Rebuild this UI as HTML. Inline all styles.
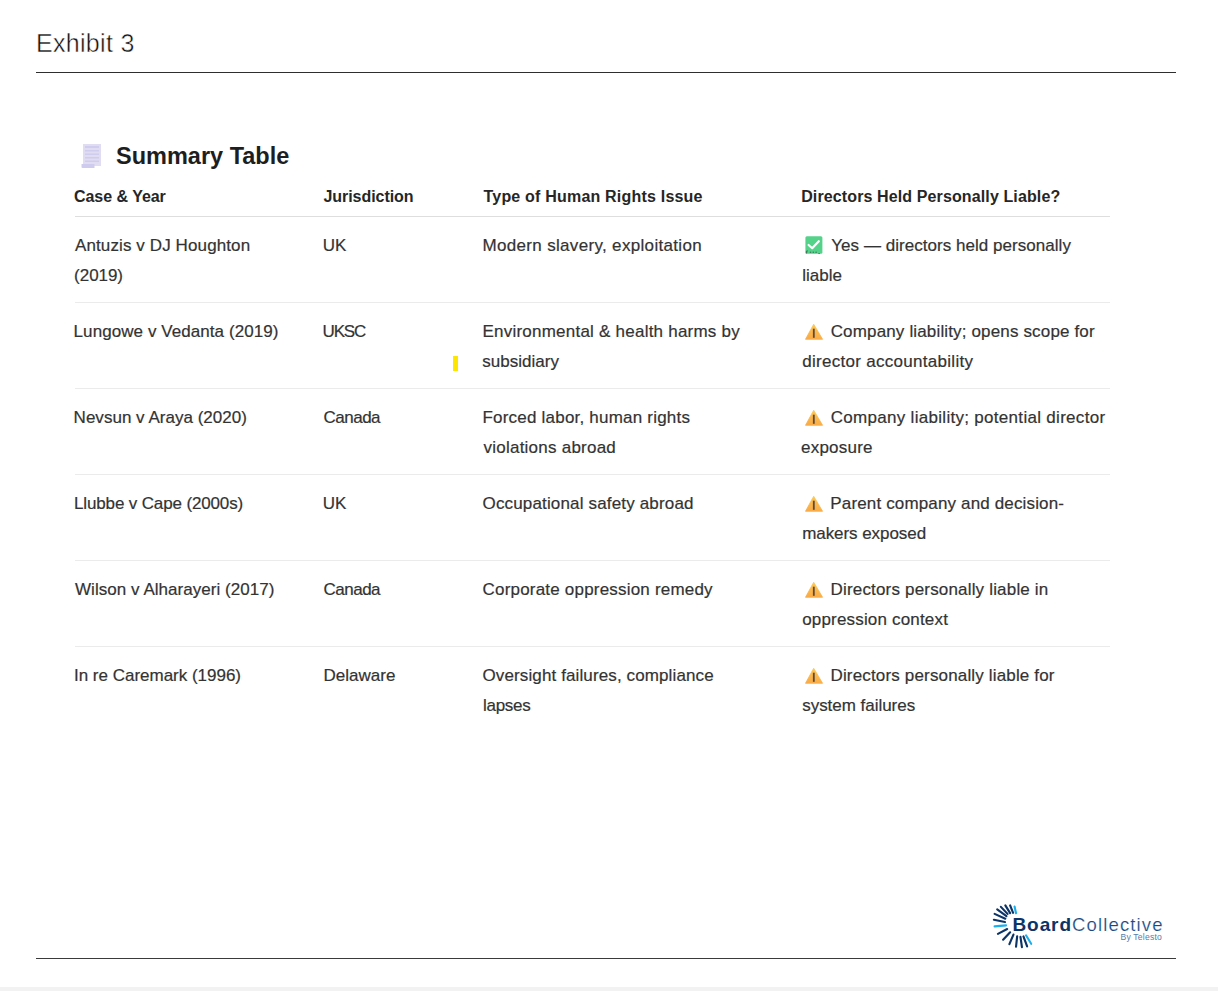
<!DOCTYPE html>
<html>
<head>
<meta charset="utf-8">
<style>
html,body{margin:0;padding:0;background:#fff;}
body{width:1218px;height:991px;position:relative;overflow:hidden;font-family:"Liberation Sans",sans-serif;}
.a{position:absolute;white-space:nowrap;}
.title{left:36px;top:28.3px;font-size:25px;line-height:30px;color:#111;letter-spacing:0.3px;-webkit-text-stroke:0.45px #fff;paint-order:fill stroke;}
.hr{position:absolute;left:36px;width:1140px;height:1px;background:#2e2e2e;}
.st{left:116px;top:140.7px;font-size:23.5px;line-height:30px;font-weight:bold;color:#1e1e1e;}
.th{font-size:16px;line-height:20px;font-weight:bold;color:#262626;top:187.3px;}
.td{font-size:17px;line-height:30px;color:#333;-webkit-text-stroke:0.2px #333;}
.sep{position:absolute;left:75px;width:1035px;height:1px;background:#ebebeb;}
.sep.h{background:#dedede;}
.em{display:inline-block;vertical-align:top;}
.bottom{position:absolute;left:0;top:987px;width:1218px;height:4px;background:#f2f2f2;}
</style>
</head>
<body>
<div id="wrap" style="position:absolute;left:0;top:0;width:1218px;height:991px;">
<div class="a title">Exhibit 3</div>
<div class="hr" style="top:72px"></div>

<!-- doc icon -->
<svg class="a" style="left:80px;top:142px" width="24" height="28" viewBox="0 0 24 28">
  <rect x="3" y="2" width="18" height="22" fill="#e0ddf3"/>
  <g fill="#d0ccee">
    <rect x="5" y="4" width="14" height="2"/>
    <rect x="5" y="8" width="14" height="1.5"/>
    <rect x="5" y="11.5" width="14" height="1.5"/>
    <rect x="5" y="15" width="14" height="1.5"/>
    <rect x="5" y="18.5" width="14" height="1.5"/>
  </g>
  <path d="M1.5 22 h13 v4 h-12 q-1 0 -1 -1z" fill="#cfcbee"/>
</svg>
<div class="a st">Summary Table</div>

<div id="L0" class="a th" style="left:74.00px;top:187.3px;letter-spacing:-0.040px">Case &amp; Year</div>
<div id="L1" class="a th" style="left:323.50px;top:187.3px;letter-spacing:-0.055px">Jurisdiction</div>
<div id="L2" class="a th" style="left:483.50px;top:187.3px;letter-spacing:0.200px">Type of Human Rights Issue</div>
<div id="L3" class="a th" style="left:801.20px;top:187.3px;letter-spacing:0.119px">Directors Held Personally Liable?</div>
<div id="L4" class="a td" style="left:75.00px;top:230.9px;letter-spacing:0.110px">Antuzis v DJ Houghton</div>
<div id="L5" class="a td" style="left:74.10px;top:260.9px;letter-spacing:-0.040px">(2019)</div>
<div id="L6" class="a td" style="left:322.80px;top:230.9px;letter-spacing:0.000px">UK</div>
<div id="L7" class="a td" style="left:482.50px;top:230.9px;letter-spacing:0.326px">Modern slavery, exploitation</div>
<div id="L8" class="a td" style="left:831.30px;top:230.9px;letter-spacing:0.040px">Yes — directors held personally</div>
<div id="L9" class="a td" style="left:802.20px;top:260.9px;letter-spacing:0.000px">liable</div>
<div id="L10" class="a td" style="left:73.60px;top:316.9px;letter-spacing:0.070px">Lungowe v Vedanta (2019)</div>
<div id="L11" class="a td" style="left:322.60px;top:316.9px;letter-spacing:-1.200px">UKSC</div>
<div id="L12" class="a td" style="left:482.50px;top:316.9px;letter-spacing:0.227px">Environmental &amp; health harms by</div>
<div id="L13" class="a td" style="left:482.30px;top:346.9px;letter-spacing:0.022px">subsidiary</div>
<div id="L14" class="a td" style="left:830.70px;top:316.9px;letter-spacing:0.152px">Company liability; opens scope for</div>
<div id="L15" class="a td" style="left:802.20px;top:346.9px;letter-spacing:0.291px">director accountability</div>
<div id="L16" class="a td" style="left:73.60px;top:402.9px;letter-spacing:0.020px">Nevsun v Araya (2020)</div>
<div id="L17" class="a td" style="left:323.60px;top:402.9px;letter-spacing:-0.520px">Canada</div>
<div id="L18" class="a td" style="left:482.50px;top:402.9px;letter-spacing:0.208px">Forced labor, human rights</div>
<div id="L19" class="a td" style="left:483.50px;top:432.9px;letter-spacing:0.237px">violations abroad</div>
<div id="L20" class="a td" style="left:830.70px;top:402.9px;letter-spacing:0.300px">Company liability; potential director</div>
<div id="L21" class="a td" style="left:801.00px;top:432.9px;letter-spacing:0.229px">exposure</div>
<div id="L22" class="a td" style="left:74.00px;top:488.9px;letter-spacing:-0.140px">Llubbe v Cape (2000s)</div>
<div id="L23" class="a td" style="left:322.80px;top:488.9px;letter-spacing:0.000px">UK</div>
<div id="L24" class="a td" style="left:482.50px;top:488.9px;letter-spacing:0.160px">Occupational safety abroad</div>
<div id="L25" class="a td" style="left:830.30px;top:488.9px;letter-spacing:0.148px">Parent company and decision-</div>
<div id="L26" class="a td" style="left:802.20px;top:518.9px;letter-spacing:-0.062px">makers exposed</div>
<div id="L27" class="a td" style="left:75.00px;top:574.9px;letter-spacing:0.040px">Wilson v Alharayeri (2017)</div>
<div id="L28" class="a td" style="left:323.60px;top:574.9px;letter-spacing:-0.520px">Canada</div>
<div id="L29" class="a td" style="left:482.50px;top:574.9px;letter-spacing:0.200px">Corporate oppression remedy</div>
<div id="L30" class="a td" style="left:830.50px;top:574.9px;letter-spacing:0.179px">Directors personally liable in</div>
<div id="L31" class="a td" style="left:802.20px;top:604.9px;letter-spacing:0.176px">oppression context</div>
<div id="L32" class="a td" style="left:74.00px;top:660.9px;letter-spacing:-0.010px">In re Caremark (1996)</div>
<div id="L33" class="a td" style="left:323.40px;top:660.9px;letter-spacing:0.029px">Delaware</div>
<div id="L34" class="a td" style="left:482.50px;top:660.9px;letter-spacing:0.117px">Oversight failures, compliance</div>
<div id="L35" class="a td" style="left:482.90px;top:690.9px;letter-spacing:-0.240px">lapses</div>
<div id="L36" class="a td" style="left:830.50px;top:660.9px;letter-spacing:0.160px">Directors personally liable for</div>
<div id="L37" class="a td" style="left:802.20px;top:690.9px;letter-spacing:-0.029px">system failures</div>
<div class="sep h" style="top:216px"></div>

<div class="sep" style="top:302px"></div>

<div class="sep" style="top:388px"></div>

<div class="sep" style="top:474px"></div>

<div class="sep" style="top:560px"></div>

<div class="sep" style="top:646px"></div>


<!-- check icon -->
<svg class="a" style="left:805px;top:236px" width="18" height="18" viewBox="0 0 18 18">
  <rect x="0.4" y="0.2" width="17" height="17.6" rx="1.5" fill="#55d28a"/>
  <path d="M3.6 9 L7.2 12.2 L13.8 5.2" fill="none" stroke="#fff" stroke-width="2.2" stroke-linecap="round" stroke-linejoin="round"/>
  <g fill="#3d5a4a" opacity="0.75">
    <path d="M0.9 17.4 L0.9 15.3 Q1.6 14.2 2.9 14.2 L1.9 17.6 Z"/>
    <circle cx="5.5" cy="16.2" r="0.8"/>
    <circle cx="8.3" cy="16.2" r="0.8"/>
    <circle cx="11.1" cy="16.2" r="0.8"/>
    <rect x="13.2" y="17.1" width="1.8" height="0.8"/>
  </g>
</svg>

<!-- warning icons -->
<svg width="0" height="0" style="position:absolute"><defs><linearGradient id="wg" x1="0.6" y1="0" x2="0.4" y2="1"><stop offset="0" stop-color="#fcca55"/><stop offset="0.55" stop-color="#fbb74c"/><stop offset="1" stop-color="#f9ab47"/></linearGradient></defs></svg>
<svg class="a" style="left:805px;top:323px" width="19" height="18" viewBox="0 0 19 18">
  <path d="M8.7 1.2 L17.6 16.3 L0.5 16.3 Z" fill="url(#wg)" stroke="url(#wg)" stroke-width="0.8" stroke-linejoin="round"/>
  <rect x="7.9" y="5.7" width="1.8" height="9.1" fill="#5b4a3a"/>
</svg>
<svg class="a" style="left:805px;top:409px" width="19" height="18" viewBox="0 0 19 18">
  <path d="M8.7 1.2 L17.6 16.3 L0.5 16.3 Z" fill="url(#wg)" stroke="url(#wg)" stroke-width="0.8" stroke-linejoin="round"/>
  <rect x="7.9" y="5.7" width="1.8" height="9.1" fill="#5b4a3a"/>
</svg>
<svg class="a" style="left:805px;top:495px" width="19" height="18" viewBox="0 0 19 18">
  <path d="M8.7 1.2 L17.6 16.3 L0.5 16.3 Z" fill="url(#wg)" stroke="url(#wg)" stroke-width="0.8" stroke-linejoin="round"/>
  <rect x="7.9" y="5.7" width="1.8" height="9.1" fill="#5b4a3a"/>
</svg>
<svg class="a" style="left:805px;top:581px" width="19" height="18" viewBox="0 0 19 18">
  <path d="M8.7 1.2 L17.6 16.3 L0.5 16.3 Z" fill="url(#wg)" stroke="url(#wg)" stroke-width="0.8" stroke-linejoin="round"/>
  <rect x="7.9" y="5.7" width="1.8" height="9.1" fill="#5b4a3a"/>
</svg>
<svg class="a" style="left:805px;top:667px" width="19" height="18" viewBox="0 0 19 18">
  <path d="M8.7 1.2 L17.6 16.3 L0.5 16.3 Z" fill="url(#wg)" stroke="url(#wg)" stroke-width="0.8" stroke-linejoin="round"/>
  <rect x="7.9" y="5.7" width="1.8" height="9.1" fill="#5b4a3a"/>
</svg>

<!-- yellow bar -->
<div class="a" style="left:453px;top:356px;width:5px;height:15px;background:#ffe600"></div>

<!-- logo -->
<svg class="a" style="left:985px;top:898px" width="90" height="54" viewBox="0 0 1218 731">
  <g stroke-width="29" stroke-linecap="round" fill="none">
    <line x1="400" y1="115" x2="420" y2="205" stroke="#1ab0ee"/>
    <line x1="340" y1="100" x2="380" y2="200" stroke="#0c3466"/>
    <line x1="275" y1="100" x2="340" y2="205" stroke="#0c3466"/>
    <line x1="215" y1="120" x2="305" y2="215" stroke="#0c3466"/>
    <line x1="165" y1="155" x2="290" y2="245" stroke="#0c3466"/>
    <line x1="130" y1="215" x2="275" y2="280" stroke="#0c3466"/>
    <line x1="120" y1="295" x2="270" y2="325" stroke="#0c3466"/>
    <line x1="130" y1="385" x2="285" y2="370" stroke="#1ab0ee"/>
    <line x1="175" y1="485" x2="300" y2="420" stroke="#0c3466"/>
    <line x1="245" y1="565" x2="340" y2="465" stroke="#0c3466"/>
    <line x1="330" y1="625" x2="385" y2="495" stroke="#0c3466"/>
    <line x1="420" y1="660" x2="435" y2="520" stroke="#0c3466"/>
    <line x1="500" y1="665" x2="480" y2="525" stroke="#0c3466"/>
    <line x1="570" y1="655" x2="520" y2="520" stroke="#0c3466"/>
    <line x1="625" y1="620" x2="555" y2="505" stroke="#1ab0ee"/>
  </g>
</svg>
<div class="a" style="left:1012.5px;top:912.5px;font-size:19px;line-height:24px;font-weight:bold;color:#0c3466;letter-spacing:0.9px">Board</div>
<div class="a" style="left:1072px;top:913px;font-size:18.5px;line-height:24px;color:#174a83;letter-spacing:1.15px;-webkit-text-stroke:0.2px #fff;paint-order:fill stroke">Collective</div>
<div class="a" style="left:1120.5px;top:932px;font-size:8.6px;line-height:11px;color:#5b7ba6;letter-spacing:0.2px">By Telesto</div>

<div class="hr" style="top:958px;background:#3a3a3a"></div>
<div class="bottom"></div>
</div>
</body>
</html>
